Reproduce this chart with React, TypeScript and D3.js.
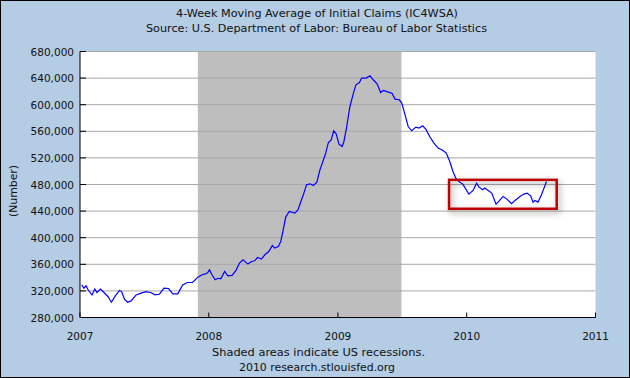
import React from "react";
import * as d3 from "d3";

const weekDates = [
  "2007-01-06","2007-01-12","2007-01-18","2007-01-25","2007-02-04","2007-02-12","2007-02-18","2007-02-28",
  "2007-03-10","2007-03-21","2007-03-31","2007-04-11","2007-04-23","2007-04-29","2007-05-07","2007-05-16",
  "2007-05-26","2007-06-09","2007-06-23","2007-07-07","2007-07-20","2007-08-02","2007-08-14","2007-08-27",
  "2007-09-09","2007-09-21","2007-10-05","2007-10-19","2007-11-01","2007-11-16","2007-12-01","2007-12-12",
  "2007-12-20","2007-12-28","2008-01-03","2008-01-10","2008-01-19","2008-01-27","2008-02-04","2008-02-15",
  "2008-02-24","2008-03-07","2008-03-19","2008-03-28","2008-04-07","2008-04-21","2008-05-01","2008-05-10",
  "2008-05-18","2008-05-29","2008-06-08","2008-06-19","2008-06-29","2008-07-06","2008-07-16","2008-07-23",
  "2008-07-30","2008-08-06","2008-08-16","2008-09-01","2008-09-10","2008-09-18","2008-09-25","2008-10-04",
  "2008-10-14","2008-10-23","2008-11-02","2008-11-11","2008-11-26","2008-12-05","2008-12-13","2008-12-20",
  "2008-12-27","2009-01-04","2009-01-13","2009-01-18","2009-01-26","2009-02-04","2009-02-14","2009-02-21",
  "2009-03-03","2009-03-09","2009-03-22","2009-04-02","2009-04-11","2009-04-22","2009-05-02","2009-05-10",
  "2009-05-24","2009-06-03","2009-06-12","2009-06-24","2009-07-01","2009-07-10","2009-07-19","2009-07-29",
  "2009-08-10","2009-08-19","2009-08-29","2009-09-07","2009-09-18","2009-09-30","2009-10-12","2009-10-26",
  "2009-11-04","2009-11-14","2009-11-23","2009-12-01","2009-12-10","2009-12-21","2010-01-07","2010-01-19",
  "2010-01-29","2010-02-05","2010-02-15","2010-02-21","2010-03-03","2010-03-13","2010-03-25","2010-04-03",
  "2010-04-14","2010-04-25","2010-05-08","2010-05-17","2010-06-01","2010-06-12","2010-06-21","2010-07-01",
  "2010-07-08","2010-07-13","2010-07-22","2010-08-01","2010-08-08","2010-08-15",
];

const claims = [
  329000,324000,327700,320600,314000,322700,317600,322700,
  317600,311600,303000,312600,320600,319000,307700,303000,
  305000,314000,316700,319000,317600,314000,315000,324000,
  323600,315600,315600,329000,332600,332600,340700,344000,
  345300,346800,351700,344200,336700,339000,338200,349200,
  342700,343200,351700,361800,366800,360300,364200,365300,
  370200,367800,374300,379200,388300,384400,386800,394300,
  411900,431000,439400,437000,442000,454400,464500,479600,
  481000,478500,483000,502000,524700,543200,547200,560800,
  556200,540700,537200,544700,567200,597300,617400,629900,
  633400,640000,640000,643500,637500,631400,618400,621400,
  619000,617400,608400,607400,602400,585000,567200,560800,
  566300,564800,568300,563300,552200,542200,534700,531100,
  527200,514600,499600,489600,484500,480600,465500,471000,
  482000,476000,472000,474600,471000,467000,450500,455500,
  462000,458000,451000,455500,462000,465600,467000,463000,
  453500,456000,453500,464500,474600,484500,
];

const yTicks = [280000,320000,360000,400000,440000,480000,520000,560000,600000,640000,680000];
const xTickYears = ["2007","2008","2009","2010","2011"];
const recession = ["2007-12-01","2009-06-30"];
const highlightDates = ["2009-11-12","2010-09-13"];
const highlightValues = [487000,443500];

const titleLines = [
  "4-Week Moving Average of Initial Claims (IC4WSA)",
  "Source: U.S. Department of Labor: Bureau of Labor Statistics",
];
const footerLines = ["Shaded areas indicate US recessions.", "2010 research.stlouisfed.org"];
const yAxisLabel = "(Number)";

const W = 630, H = 378;
const L = 80, R = 595.5, T = 51.5, B = 317.5;
const FONT = "DejaVu Sans, Verdana, sans-serif";

export default function App() {
  const parse = d3.timeParse("%Y-%m-%d");
  const x = d3.scaleTime().domain([new Date(2007, 0, 1), new Date(2011, 0, 1)]).range([L, R]);
  const y = d3.scaleLinear().domain([280000, 680000]).range([B, T]);
  const fmt = d3.format(",");
  const pts = weekDates.map((d, i) => [parse(d) as Date, claims[i]] as [Date, number]);
  const line = d3.line<[Date, number]>().x(d => x(d[0])).y(d => y(d[1]));
  const rx0 = x(parse(recession[0]) as Date), rx1 = x(parse(recession[1]) as Date);
  const hx0 = x(parse(highlightDates[0]) as Date), hx1 = x(parse(highlightDates[1]) as Date);
  const hy0 = y(highlightValues[0]), hy1 = y(highlightValues[1]);
  const txt = { fontSize: 10, fill: "#111", textAnchor: "middle" as const, lengthAdjust: "spacingAndGlyphs" };

  return (
    <svg width={W} height={H} style={{ position: "absolute", left: 0, top: 0 }} fontFamily={FONT}>
      <defs>
        <filter id="shadow" x="-20%" y="-50%" width="140%" height="200%">
          <feDropShadow dx="2" dy="3" stdDeviation="3" floodColor="#000" floodOpacity="0.4" />
        </filter>
      </defs>
      <rect x={0.5} y={0.5} width={W - 1} height={H - 1} fill="rgb(180,204,228)" stroke="#000" />
      <rect x={L} y={T} width={R - L} height={B - T} fill="#fff" />
      <rect x={rx0} y={T} width={rx1 - rx0} height={B - T} fill="#bebebe" />
      {yTicks.map(t => (
        <g key={t}>
          <line x1={L} x2={R} y1={y(t)} y2={y(t)} stroke="#a8a8a8" />
          <line x1={L} x2={L + 6} y1={y(t)} y2={y(t)} stroke="#000" />
          <text x={L - 6} y={y(t) + 4} textAnchor="end" fontSize={10.5} fill="#111">{fmt(t)}</text>
        </g>
      ))}
      {xTickYears.map(yr => {
        const xx = x(new Date(+yr, 0, 1));
        return (
          <g key={yr}>
            <line x1={xx} x2={xx} y1={B} y2={B - 5} stroke="#000" />
            <text x={xx} y={340} textAnchor="middle" fontSize={10.5} fill="#111">{yr}</text>
          </g>
        );
      })}
      <line x1={L} x2={L} y1={T} y2={B} stroke="#000" />
      <line x1={L} x2={R} y1={B} y2={B} stroke="#000" />
      <path d={line(pts) || ""} fill="none" stroke="#0000ff" strokeWidth={1.2} />
      <rect x={hx0} y={hy0} width={hx1 - hx0} height={hy1 - hy0} fill="none" stroke="#c00000" strokeWidth={2.5} filter="url(#shadow)" />
      <text x={317} y={17} {...txt} textLength={282}>{titleLines[0]}</text>
      <text x={316.5} y={32} {...txt} textLength={341}>{titleLines[1]}</text>
      <text x={318.5} y={356} {...txt} textLength={213}>{footerLines[0]}</text>
      <text x={317} y={371} {...txt} textLength={156}>{footerLines[1]}</text>
      <text transform={`translate(17,191) rotate(-90)`} {...txt} textLength={52}>{yAxisLabel}</text>
    </svg>
  );
}
